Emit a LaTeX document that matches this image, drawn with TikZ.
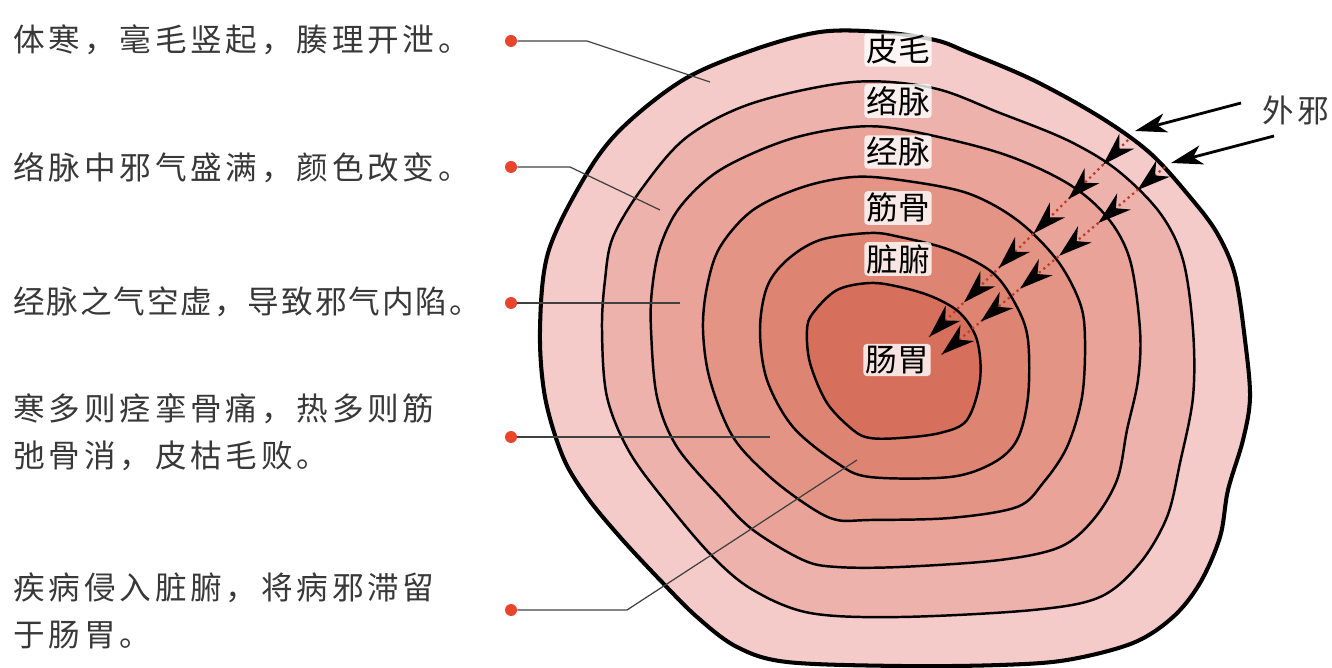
\documentclass[tikz,border=0pt]{standalone}
\usepackage{fontspec}
\newfontfamily\cjk{Noto Sans CJK SC}[LetterSpace=12]
\newfontfamily\cjktag{Noto Sans CJK SC}
\usetikzlibrary{arrows.meta,decorations.markings}
\definecolor{band0}{HTML}{F5CBCA}
\definecolor{band1}{HTML}{EEB2AC}
\definecolor{band2}{HTML}{E9A398}
\definecolor{band3}{HTML}{E49484}
\definecolor{band4}{HTML}{DE8472}
\definecolor{band5}{HTML}{D6705C}
\definecolor{pinred}{HTML}{E8452C}
\definecolor{dotred}{HTML}{B8402E}
\tikzset{
  band/.style={draw=black, line width=1.4pt, fill=#1},
  leader/.style={draw=black!75, line width=0.7pt},
  pin/.style={circle, fill=pinred, inner sep=0pt, minimum size=0.24cm},
  note/.style={anchor=west, inner sep=0pt, align=left, text=black!78,
    font=\cjk\fontsize{18}{27}\selectfont},
  tag/.style={fill=white, fill opacity=0.8, text opacity=1, inner sep=1.2pt,
    rounded corners=2pt, font=\cjktag\fontsize{18}{20}\selectfont},
  inflow/.style={draw=dotred, line width=1.3pt, dotted, postaction={decorate},
    decoration={markings, mark=between positions #1 and 1 step 0.1748 with
      {\arrow{Stealth[length=19pt,width=12pt,inset=6pt,color=black]}}}}
}
\begin{document}
\begin{tikzpicture}[x=0.02cm,y=-0.02cm]
\useasboundingbox (0,0) rectangle (1332,668);
% bands, outside in
\path[band=band0, line width=2.3pt] plot[smooth cycle, tension=0.55] coordinates {
(540,330) (548,253) (583,180) (620,130) (683,80) (753,50) (820,32) (880,32)
(935,40) (967,52) (1033,80) (1100,117) (1150,153) (1190,197) (1217,233)
(1235,275) (1245,340) (1250,397) (1243,440) (1228,490) (1220,537) (1200,583)
(1173,617) (1133,643) (1067,660) (1000,665) (900,666) (787,662) (737,647)
(697,617) (660,580) (620,537) (587,497) (563,457) (545,397)};
\path[band=band1] plot[smooth cycle, tension=0.55] coordinates {
(602,330) (605,280) (613,237) (643,187) (687,137) (753,103) (853,82) (933,88)
(1000,113) (1067,140) (1117,170) (1160,213) (1183,260) (1193,330) (1193,397)
(1180,463) (1167,517) (1140,563) (1100,597) (1033,610) (900,617) (810,613)
(753,590) (713,557) (670,507) (630,453) (607,397)};
\path[band=band2] plot[smooth cycle, tension=0.55] coordinates {
(651,330) (652,290) (660,247) (680,207) (720,170) (787,140) (853,127) (905,130)
(1000,153) (1067,183) (1107,217) (1130,260) (1140,330) (1138,380) (1127,430)
(1117,480) (1093,520) (1060,547) (1000,560) (900,567) (837,567) (803,560)
(753,530) (720,497) (677,447) (657,397)};
\path[band=band3] plot[smooth cycle, tension=0.55] coordinates {
(703,330) (707,287) (720,247) (753,210) (803,187) (853,177) (900,180) (967,193)
(1017,220) (1057,260) (1080,303) (1085,340) (1082,397) (1067,447) (1043,483)
(1017,507) (950,518) (870,520) (837,520) (810,507) (770,477) (733,437) (710,380)};
\path[band=band4] plot[smooth cycle, tension=0.55] coordinates {
(760,330) (767,287) (787,260) (820,240) (870,233) (900,237) (950,250) (993,273)
(1017,307) (1028,340) (1028,397) (1017,440) (993,463) (950,477) (870,477)
(837,463) (793,427) (767,380)};
\path[band=band5] plot[smooth cycle, tension=0.55] coordinates {
(807,330) (813,313) (837,290) (870,283) (900,287) (933,297) (960,313) (977,340)
(980,380) (967,420) (940,433) (900,438) (870,438) (853,430) (827,403) (810,363)};
% notes and leaders
\node[note] (t1) at (13,40) {体寒，毫毛竖起，腠理开泄。};
\node[note] (t2) at (13,168) {络脉中邪气盛满，颜色改变。};
\node[note] (t3) at (13,302) {\addfontfeature{LetterSpace=6}经脉之气空虚，导致邪气内陷。};
\node[note] (t4) at (13,432) {寒多则痉挛骨痛，热多则筋\\弛骨消，皮枯毛败。};
\node[note] (t5) at (13,611) {疾病侵入脏腑，将病邪滞留\\于肠胃。};
\node[pin] (d1) at (511,41) {};
\node[pin] (d2) at (511,167) {};
\node[pin] (d3) at (511,303) {};
\node[pin] (d4) at (511,437) {};
\node[pin] (d5) at (511,610) {};
\coordinate (e1) at (587,41);  \coordinate (f1) at (710,82);
\coordinate (e2) at (570,167); \coordinate (f2) at (660,210);
\coordinate (f3) at (680,303);
\coordinate (f4) at (770,437);
\coordinate (e5) at (627,610); \coordinate (f5) at (857,460);
\draw[leader] (d1) -- (e1) -- (f1);
\draw[leader] (d2) -- (e2) -- (f2);
\draw[leader] (d3) -- (f3);
\draw[leader] (d4) -- (f4);
\draw[leader] (d5) -- (e5) -- (f5);
% inward paths
\coordinate (ina0) at (1128,140); \coordinate (ina1) at (929,337);
\coordinate (inb0) at (1165,167); \coordinate (inb1) at (941,355);
\draw[inflow=0.125] (ina0) -- (ina1);
\draw[inflow=0.123] (inb0) -- (inb1);
% band names
\node[tag] (skin)  at (898,50)  {皮毛};
\node[tag] (luo)   at (898,101) {络脉};
\node[tag] (jing)  at (898,152) {经脉};
\node[tag] (sinew) at (898,208) {筋骨};
\node[tag] (organ) at (898,259) {脏腑};
\node[tag] (gut)   at (897,360) {肠胃};
% outside evil
\node[note, anchor=center] (wx) at (1296,110) {外邪};
\coordinate (x1s) at (1241,103); \coordinate (x1e) at (1135,131);
\coordinate (x2s) at (1274,136); \coordinate (x2e) at (1171,163);
\draw[line width=1.6pt, -{Stealth[length=18pt,width=11pt,inset=5pt]}] (x1s) -- (x1e);
\draw[line width=1.6pt, -{Stealth[length=18pt,width=11pt,inset=5pt]}] (x2s) -- (x2e);
\end{tikzpicture}
\end{document}
